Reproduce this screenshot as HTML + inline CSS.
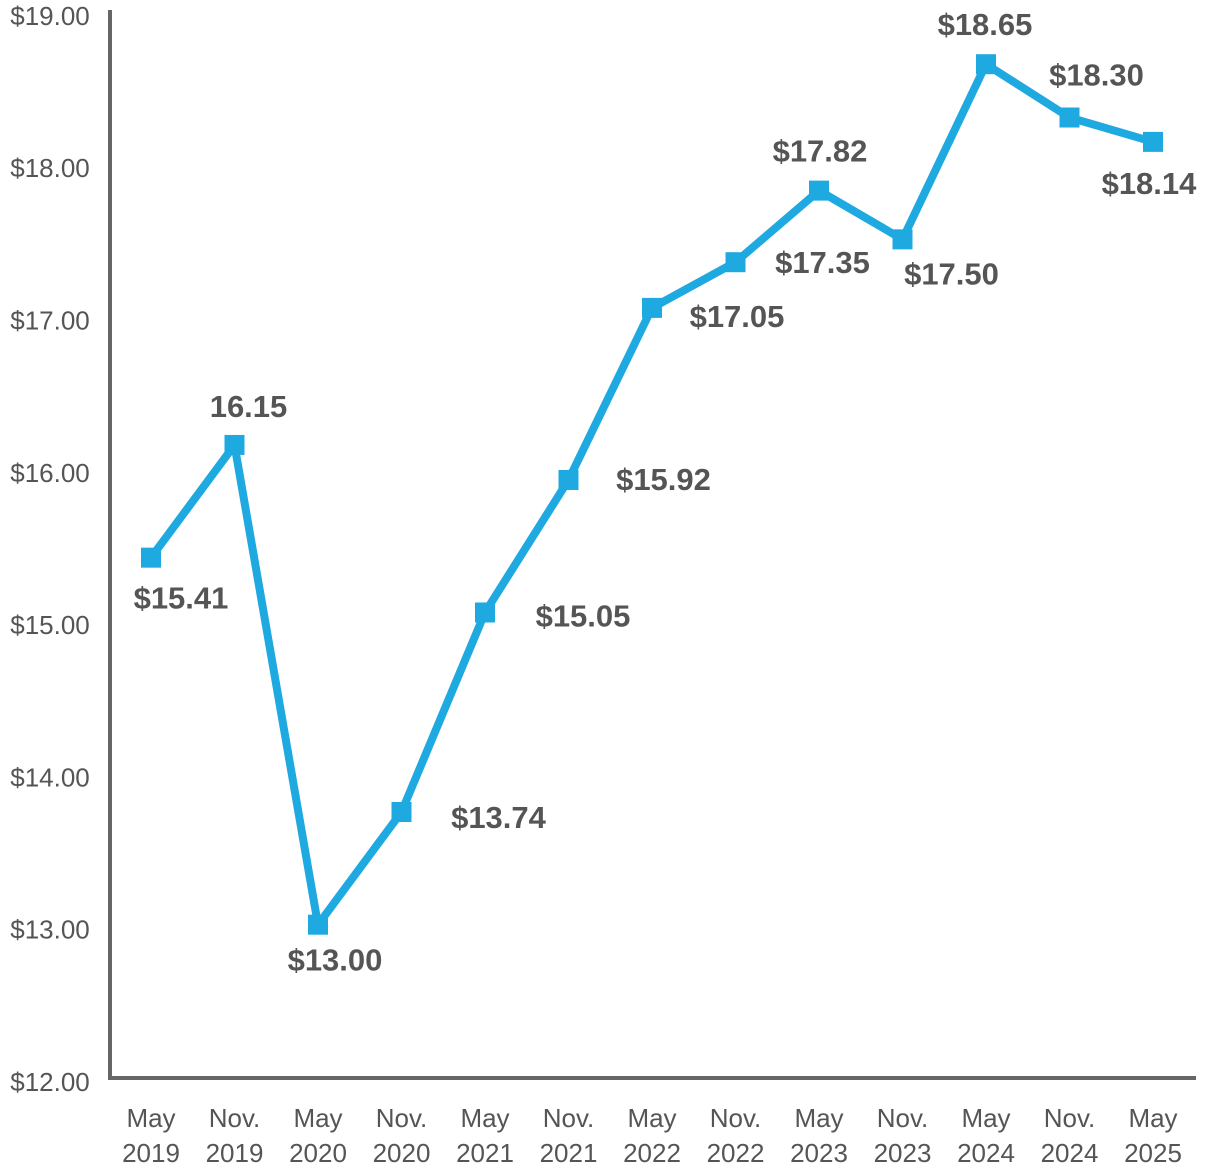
<!DOCTYPE html>
<html><head><meta charset="utf-8"><style>
body{margin:0;background:#fff;}
svg{display:block;font-family:"Liberation Sans",sans-serif;}
</style></head><body>
<svg id="chart" width="1212" height="1171" viewBox="0 0 1212 1171"></svg>
<script>
const categories=["May|2019","Nov.|2019","May|2020","Nov.|2020","May|2021","Nov.|2021","May|2022","Nov.|2022","May|2023","Nov.|2023","May|2024","Nov.|2024","May|2025"];
const values=[15.41,16.15,13.00,13.74,15.05,15.92,17.05,17.35,17.82,17.50,18.65,18.30,18.14];
const valueLabels=["$15.41","16.15","$13.00","$13.74","$15.05","$15.92","$17.05","$17.35","$17.82","$17.50","$18.65","$18.30","$18.14"];
const tickValues=[12,13,14,15,16,17,18,19];
const tickLabels=["$12.00","$13.00","$14.00","$15.00","$16.00","$17.00","$18.00","$19.00"];
const labelOffsets=[[30,40],[14,-39],[17,35],[97,5],[98,3],[95,-1],[85,8],[87,0],[1,-40],[49,34],[-1,-40],[27,-43],[-4,41]];
const svg=document.getElementById('chart');
const NS='http://www.w3.org/2000/svg';
function y(v){return 1077-(v-12)*152.3;}
function x(i){return 151+i*83.5;}
function mk(t,a){const e=document.createElementNS(NS,t);for(const k in a)e.setAttribute(k,a[k]);svg.appendChild(e);return e;}
const ax=mk('path',{d:'M110 10 V1078 H1196',fill:'none',stroke:'#666',"stroke-width":4});


tickValues.forEach((v,i)=>{const t=mk('text',{x:50,y:y(v)+14,"text-anchor":"middle","font-size":26,fill:'#555'});t.textContent=tickLabels[i];

});
categories.forEach((c,i)=>{const p=c.split('|');const t=mk('text',{x:x(i),y:1127,"text-anchor":"middle","font-size":26,fill:'#555'});


const s1=document.createElementNS(NS,'tspan');s1.setAttribute('x',x(i));s1.textContent=p[0];t.appendChild(s1);
const s2=document.createElementNS(NS,'tspan');s2.setAttribute('x',x(i));s2.setAttribute('dy','35');s2.textContent=p[1];t.appendChild(s2);});
const line=mk('polyline',{points:values.map((v,i)=>x(i)+','+y(v)).join(' '),fill:'none',stroke:'#1fa9e1',"stroke-width":8,"stroke-linejoin":"round"});


values.forEach((v,i)=>{const r=mk('rect',{x:x(i)-10,y:y(v)-10,width:20,height:20,fill:'#1fa9e1'});


const t=mk('text',{x:x(i)+labelOffsets[i][0],y:y(v)+labelOffsets[i][1]+11,"text-anchor":"middle","font-size":31,"font-weight":"bold",fill:'#555'});
t.textContent=valueLabels[i];

});
</script>
</body></html>
